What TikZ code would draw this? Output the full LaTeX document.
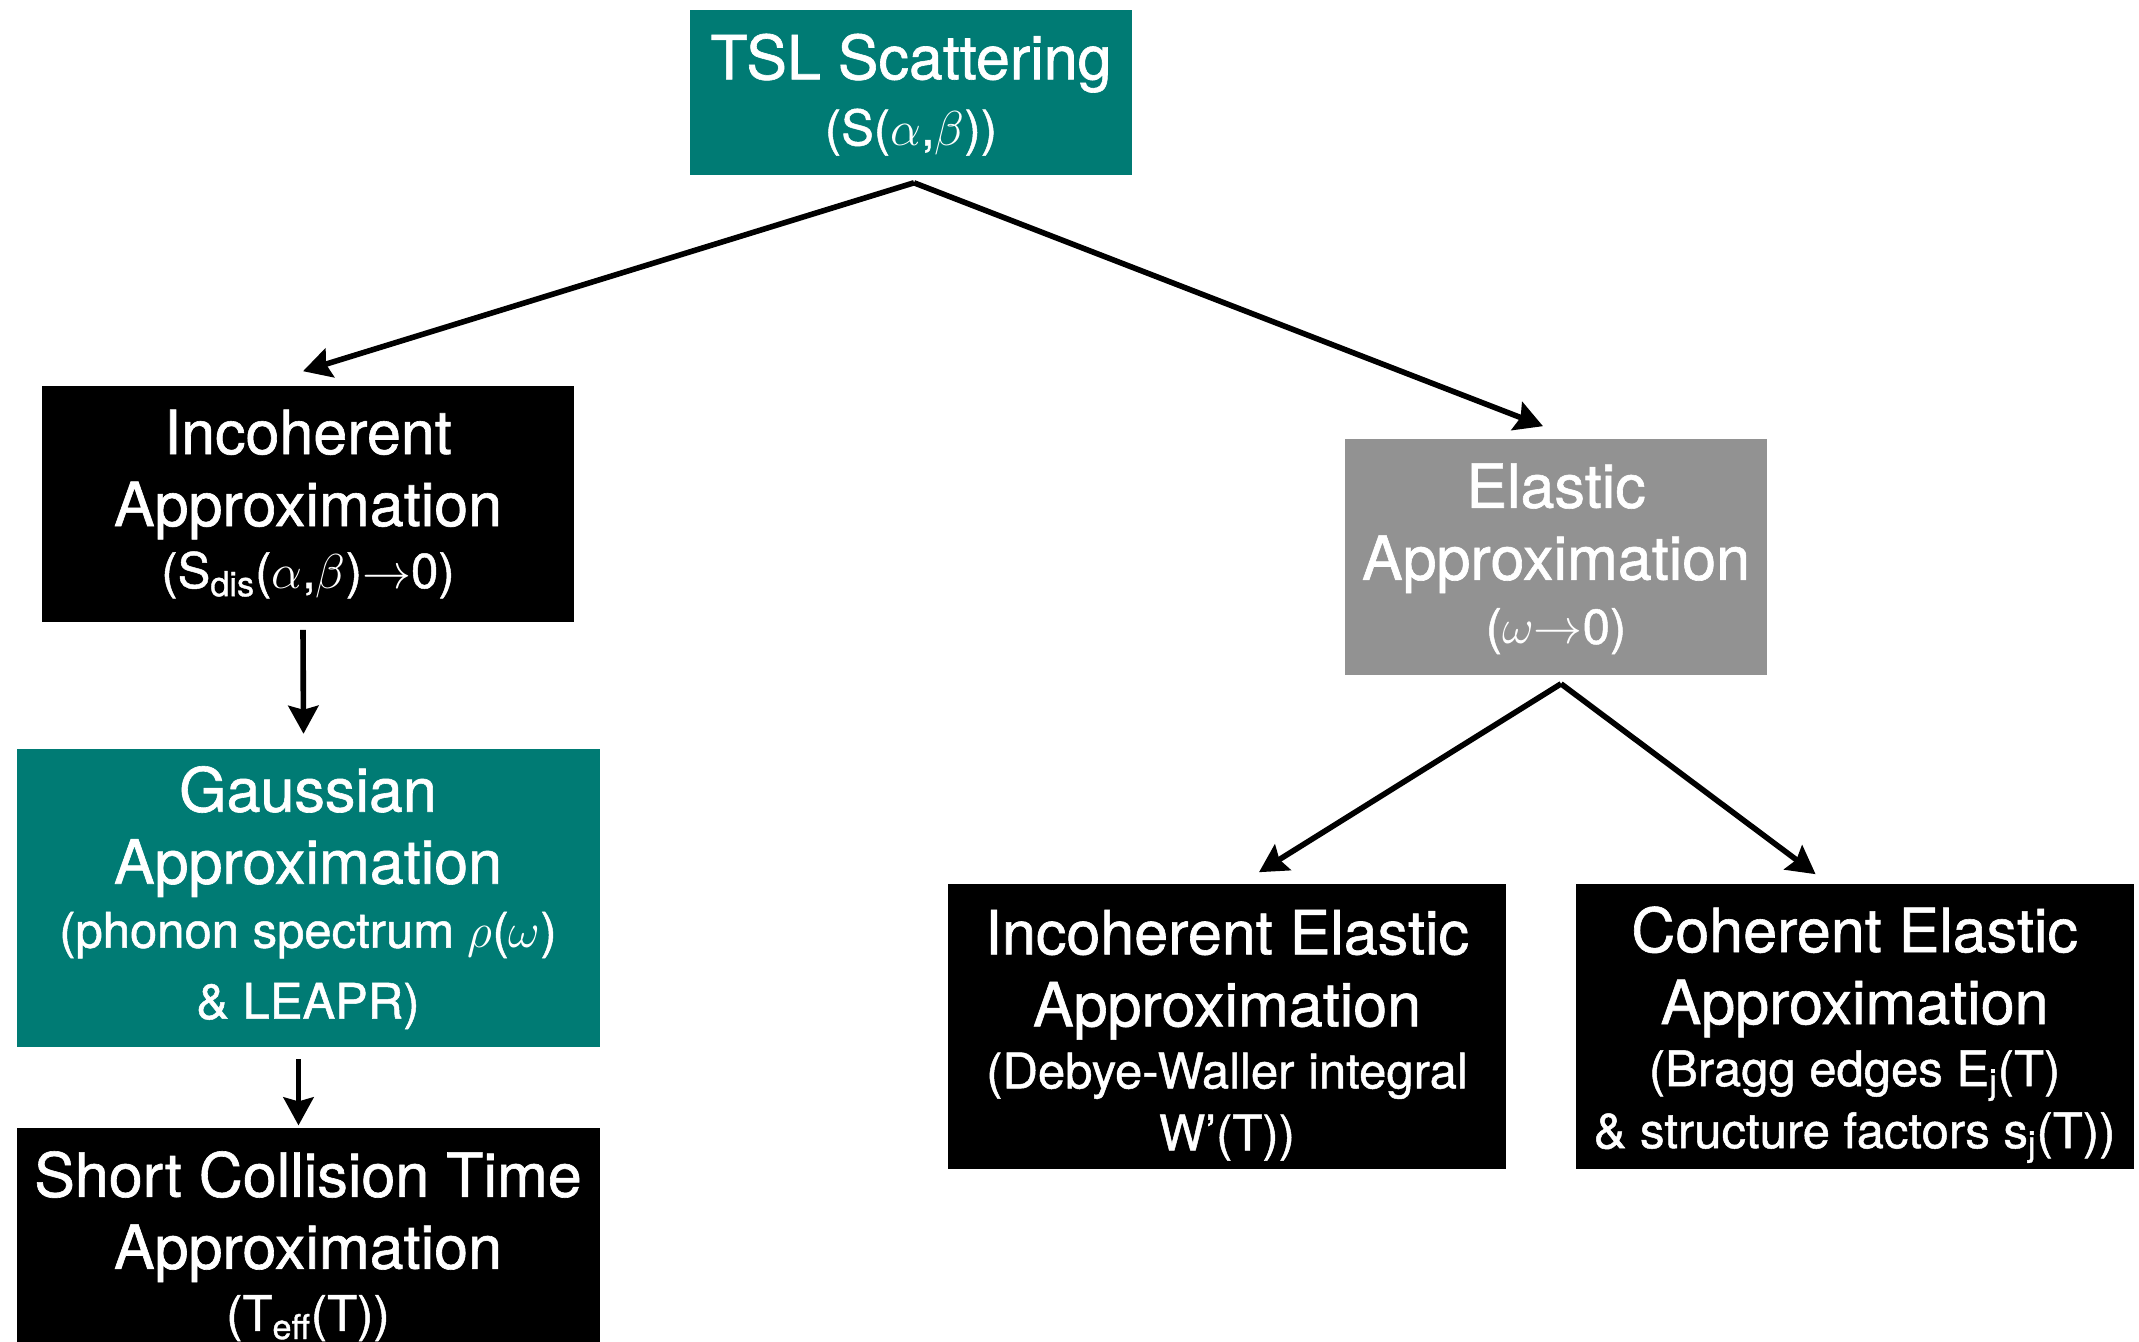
\RequirePackage{fix-cm}
\documentclass[tikz,border=0pt]{standalone}
\usepackage{amsmath}
\usepackage{fontspec}
\setmainfont{TeX Gyre Heros}[FakeBold=1]
\usetikzlibrary{arrows.meta}
\usetikzlibrary{positioning}

\definecolor{tslteal}{RGB}{0,123,116}
\definecolor{elasgray}{RGB}{146,146,146}
\newcommand{\mainsz}{\fontsize{30.5}{36}\selectfont}
\newcommand{\subsz}{\fontsize{24.5}{30}\selectfont}

\begin{document}
\begin{tikzpicture}[->,>={Stealth[length=14pt,width=15pt,inset=2pt]},line width=2.8pt,
                    x=0.5pt,y=-0.5pt,
                    box/.style={rectangle,inner sep=0pt,text=white,align=center,font=\mainsz},
                    teal box/.style={box,fill=tslteal},
                    black box/.style={box,fill=black},
                    gray box/.style={box,fill=elasgray}]
  \useasboundingbox (0,0) rectangle (2139,1342);

  \node[teal box,minimum width=221pt,minimum height=82.5pt] (tsl) at (911,92.5)
       {\rule{0pt}{25pt}TSL Scattering\\[-3pt]{\subsz (S($\alpha$,$\beta$))}};
  \node[black box,minimum width=266pt,minimum height=118pt] (incoh) at (308,504)
       {Incoherent\\Approximation\\[-5pt]{\subsz (S\textsubscript{dis}($\alpha$,$\beta$)$\rightarrow$0)}};
  \node[teal box,minimum width=291.5pt,minimum height=149pt] (gauss) [below=60.5pt of incoh]
       {Gaussian\\Approximation\\[-4pt]{\subsz (phonon spectrum $\rho$($\omega$)}\\[-0.5pt]{\subsz \& LEAPR)}};
  \node[black box,minimum width=291.5pt,minimum height=118pt] (sct) [below=38pt of gauss]
       {Short Collision Time\\Approximation\\[-5pt]{\subsz (T\textsubscript{eff}(T))}};
  \node[gray box,minimum width=211pt,minimum height=118pt] (elas) at (1556,557)
       {\rule{0pt}{24pt}Elastic\\Approximation\\[-4pt]{\subsz ($\omega$$\rightarrow$0)}};
  \node[black box,minimum width=279pt,minimum height=142.5pt] (incel) at (1227,1026.5)
       {\rule{0pt}{31pt}Incoherent Elastic\\Approximation\\[-5pt]{\subsz (Debye-Waller integral}\\[-5pt]{\subsz W’(T))}};
  \node[black box,minimum width=279pt,minimum height=142.5pt] (cohel) [right=32pt of incel]
       {\rule{0pt}{31pt}Coherent Elastic\\Approximation\\[-5pt]{\subsz (Bragg edges E\textsubscript{j}(T)}\\[-5pt]{\subsz \& structure factors s\textsubscript{j}(T))}};

  \path
    ([xshift=1.5pt,yshift=-2.5pt]tsl.south)
    edge ([xshift=-2.5pt,yshift=6pt]incoh.north)
    edge ([xshift=-6.5pt,yshift=5pt]elas.north)

    ([xshift=-2.5pt,yshift=-2.5pt]incoh.south)
    edge ([xshift=-2.25pt,yshift=6pt]gauss.north)

    ([xshift=-4.75pt,yshift=-5pt]gauss.south)
    edge ([xshift=-4.75pt]sct.north)

    ([xshift=2.5pt,yshift=-3pt]elas.south)
    edge ([xshift=16pt,yshift=4.5pt]incel.north)
    edge ([xshift=-19.5pt,yshift=3.5pt]cohel.north);
\end{tikzpicture}
\end{document}
